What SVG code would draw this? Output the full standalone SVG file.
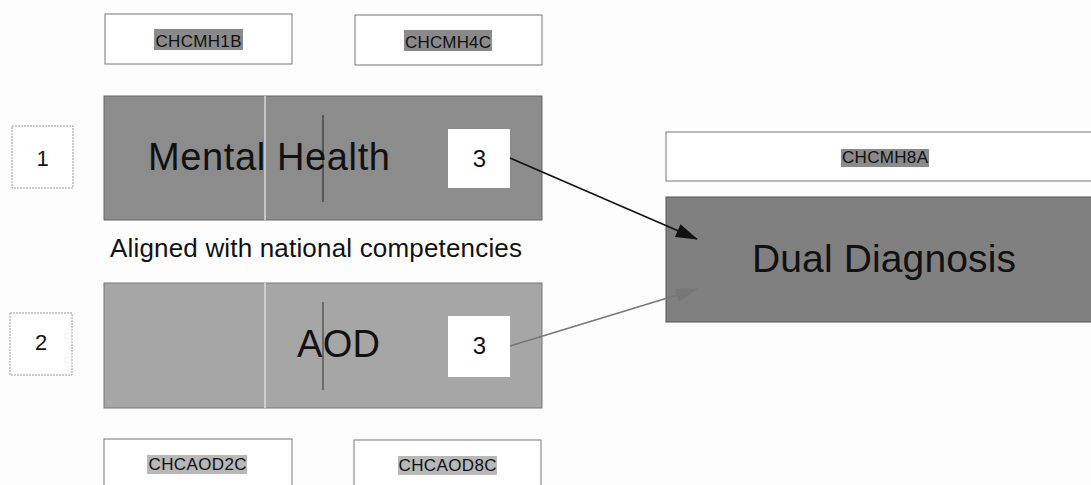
<svg xmlns="http://www.w3.org/2000/svg" width="1091" height="485" viewBox="0 0 1091 485">
<defs>
<style>
text{font-family:"Liberation Sans",Arial,sans-serif;fill:#111}
.code{fill:#fff;stroke:#777;stroke-width:1}
.hl{fill:#8a8a8a}
.hl2{fill:#b8b8b8}
.num{fill:#fff;stroke:#999;stroke-width:1;stroke-dasharray:2 1}
.three{fill:#fff}
.small{font-size:17px}
</style>
<marker id="ahB" viewBox="0 0 22 14" refX="21" refY="7" markerWidth="22" markerHeight="14" markerUnits="userSpaceOnUse" orient="auto" overflow="visible">
<path d="M0,0 L22,7 L0,14 z" fill="#111"/>
</marker>
<marker id="ahG" viewBox="0 0 22 14" refX="21" refY="7" markerWidth="22" markerHeight="14" markerUnits="userSpaceOnUse" orient="auto" overflow="visible">
<path d="M0,0 L22,7 L0,14 z" fill="#777"/>
</marker>
</defs>
<rect width="1091" height="485" fill="#fdfdfd"/>

<g id="chcmh1b">
<rect class="code" x="105" y="14" width="187" height="50"/>
<rect class="hl" x="154" y="29" width="89" height="21"/>
<text class="small" x="198.5" y="47" text-anchor="middle" textLength="86">CHCMH1B</text>
</g>
<g id="chcmh4c">
<rect class="code" x="355" y="15" width="187" height="50"/>
<rect class="hl" x="404" y="30" width="88" height="21"/>
<text class="small" x="448" y="48" text-anchor="middle" textLength="86">CHCMH4C</text>
</g>

<g id="num1">
<rect class="num" x="12" y="126" width="61" height="62"/>
<text x="42.5" y="166" font-size="22" text-anchor="middle">1</text>
</g>
<g id="num2">
<rect class="num" x="10" y="313" width="62" height="62"/>
<text x="41" y="350" font-size="22" text-anchor="middle">2</text>
</g>

<g id="mental-health">
<rect x="104" y="96" width="438" height="124" fill="#8c8c8c" stroke="#666" stroke-width="1"/>
<line x1="265" y1="96" x2="265" y2="220" stroke="#d8d8d8" stroke-width="1.5"/>
<line x1="323" y1="115" x2="323" y2="202" stroke="#333" stroke-width="1.2"/>
<text x="148" y="170" font-size="38" textLength="242">Mental Health</text>
<rect class="three" x="448" y="129" width="62" height="59"/>
<text x="479.5" y="167" font-size="24" text-anchor="middle">3</text>
</g>

<text id="aligned" x="110" y="257" font-size="26" textLength="412">Aligned with national competencies</text>

<g id="aod">
<rect x="104" y="283" width="438" height="125" fill="#a6a6a6" stroke="#777" stroke-width="1"/>
<line x1="265" y1="283" x2="265" y2="408" stroke="#dedede" stroke-width="1.5"/>
<line x1="323" y1="302" x2="323" y2="390" stroke="#444" stroke-width="1.2"/>
<text x="297" y="357" font-size="38" textLength="83">AOD</text>
<rect class="three" x="448" y="316" width="62" height="61"/>
<text x="479.5" y="354" font-size="24" text-anchor="middle">3</text>
</g>

<g id="chcaod2c">
<rect class="code" x="104" y="439" width="188" height="50"/>
<rect class="hl2" x="147" y="455" width="100" height="19"/>
<text class="small" x="197.5" y="470" text-anchor="middle" textLength="98">CHCAOD2C</text>
</g>
<g id="chcaod8c">
<rect class="code" x="354" y="440" width="187" height="50"/>
<rect class="hl2" x="398" y="456" width="99" height="19"/>
<text class="small" x="447.5" y="471" text-anchor="middle" textLength="98">CHCAOD8C</text>
</g>

<g id="chcmh8a">
<rect class="code" x="666" y="132" width="430" height="49"/>
<rect class="hl" x="841" y="149" width="88" height="18"/>
<text class="small" x="885" y="163" text-anchor="middle" textLength="86">CHCMH8A</text>
</g>

<g id="dual-diagnosis">
<rect x="666" y="197" width="430" height="125" fill="#808080" stroke="#555" stroke-width="1"/>
<text x="752" y="272" font-size="39" textLength="264">Dual Diagnosis</text>
</g>

<g id="connectors">
<line x1="510" y1="158" x2="697" y2="239" stroke="#111" stroke-width="1.6" marker-end="url(#ahB)"/>
<line x1="510" y1="346" x2="697" y2="289" stroke="#777" stroke-width="1.6" marker-end="url(#ahG)"/>
</g>
</svg>
